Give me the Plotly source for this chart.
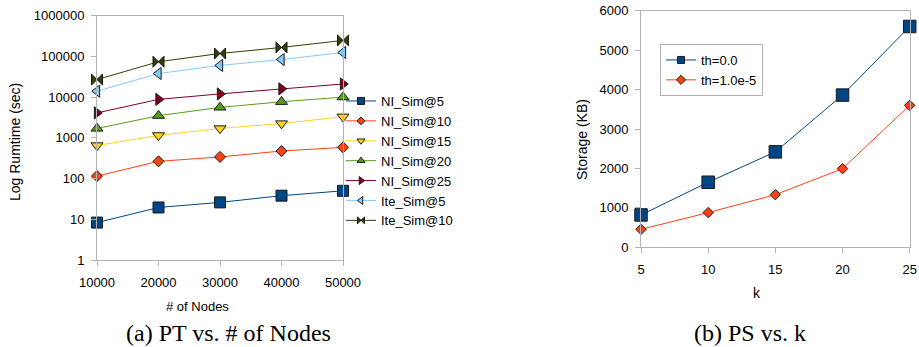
import plotly.graph_objects as go

# ---------------- data ----------------
nodes = [10000, 20000, 30000, 40000, 50000]
ni_sim5 = [8.3, 19.5, 26, 38, 50]
ni_sim10 = [115, 265, 340, 475, 585]
ni_sim15 = [650, 1150, 1700, 2250, 3300]
ni_sim20 = [1700, 3500, 5600, 7700, 10000]
ni_sim25 = [4100, 8800, 12000, 16000, 21000]
ite_sim5 = [14000, 38000, 60000, 84000, 125000]
ite_sim10 = [27000, 74000, 118000, 166000, 247000]

left_names = ["NI_Sim@5", "NI_Sim@10", "NI_Sim@15", "NI_Sim@20", "NI_Sim@25", "Ite_Sim@5", "Ite_Sim@10"]
left_series = [ni_sim5, ni_sim10, ni_sim15, ni_sim20, ni_sim25, ite_sim5, ite_sim10]

log_tickvals = [1, 10, 100, 1000, 10000, 100000, 1000000]
log_ticktext = ["1", "10", "100", "1000", "10000", "100000", "1000000"]

k_vals = [5, 10, 15, 20, 25]
storage_th0 = [820, 1650, 2420, 3860, 5600]
storage_th1 = [455, 880, 1335, 1995, 3600]
right_names = ["th=0.0", "th=1.0e-5"]
right_series = [storage_th0, storage_th1]

# ---------------- styles ----------------
left_colors = ["#004586", "#ff420e", "#ffd320", "#579d1c", "#7e0021", "#83caff", "#314004"]
left_symbols = ["square", "diamond", "triangle-down", "triangle-up", "triangle-right", "triangle-left", "bowtie"]
left_sizes = [11, 8.5, 10.5, 10.5, 10.5, 10.5, 11]
legend_sizes = [7, 6, 7, 7, 7, 7, 7]

right_colors = ["#004586", "#ff420e"]
right_symbols = ["square", "diamond"]
right_sizes = [12.5, 8]

FONT = "Liberation Sans, Arial, sans-serif"
GREY = "#b3b3b3"
W, H = 919, 347

fig = go.Figure()

for name, ys, c, s, sz, lsz in zip(left_names, left_series, left_colors, left_symbols, left_sizes, legend_sizes):
    fig.add_trace(go.Scatter(
        x=nodes, y=ys, mode="lines+markers", name=name, showlegend=False,
        line=dict(color=c, width=1),
        marker=dict(symbol=s, size=sz, color=c, line=dict(color="#1a1a1a", width=1)),
        cliponaxis=False, xaxis="x", yaxis="y"))
    fig.add_trace(go.Scatter(
        x=[None], y=[None], mode="lines+markers", name=name, legend="legend",
        line=dict(color=c, width=1),
        marker=dict(symbol=s, size=lsz, color=c, line=dict(color="#1a1a1a", width=1)),
        xaxis="x", yaxis="y"))

for name, ys, c, s, sz in zip(right_names, right_series, right_colors, right_symbols, right_sizes):
    fig.add_trace(go.Scatter(
        x=k_vals, y=ys, mode="lines+markers", name=name, showlegend=False,
        line=dict(color=c, width=1),
        marker=dict(symbol=s, size=sz, color=c, line=dict(color="#1a1a1a", width=1)),
        cliponaxis=False, xaxis="x2", yaxis="y2"))
    fig.add_trace(go.Scatter(
        x=[None], y=[None], mode="lines+markers", name=name, legend="legend2",
        line=dict(color=c, width=1),
        marker=dict(symbol=s, size=7, color=c, line=dict(color="#1a1a1a", width=1)),
        xaxis="x2", yaxis="y2"))

axis_common = dict(showline=True, linecolor=GREY, linewidth=1, mirror=True,
                   ticks="outside", ticklen=5, tickwidth=1, tickcolor=GREY,
                   showgrid=False, zeroline=False, automargin=False,
                   tickfont=dict(family=FONT, size=13, color="#000000"))

def px_x(p):
    return p / W

def px_y(p):
    return (H - p) / H

fig.update_layout(
    width=W, height=H,
    margin=dict(l=0, r=0, t=0, b=0, autoexpand=False),
    paper_bgcolor="white", plot_bgcolor="white",
    xaxis=dict(domain=[px_x(97), px_x(343)], range=[10000, 50000],
               tickvals=nodes, ticktext=[str(v) for v in nodes],
               ticklabelstandoff=5, anchor="y", **axis_common),
    yaxis=dict(domain=[px_y(260), px_y(15.7)], type="log", range=[0, 6],
               tickvals=log_tickvals, ticktext=log_ticktext,
               ticklabelstandoff=4, anchor="x", **axis_common),
    xaxis2=dict(domain=[px_x(641), px_x(909.7)], range=[5, 25],
                tickvals=k_vals, ticktext=[str(v) for v in k_vals],
                ticklabelstandoff=5, anchor="y2", **axis_common),
    yaxis2=dict(domain=[px_y(247.3), px_y(10.7)], range=[0, 6000],
                tickvals=[0, 1000, 2000, 3000, 4000, 5000, 6000],
                ticklabelstandoff=4, anchor="x2", **axis_common),
    legend=dict(x=px_x(341), y=px_y(86), xanchor="left", yanchor="top",
                font=dict(family=FONT, size=13, color="#000000"),
                bgcolor="rgba(0,0,0,0)", borderwidth=0, itemwidth=30,
                tracegroupgap=0),
    legend2=dict(x=px_x(660), y=px_y(44), xanchor="left", yanchor="top",
                 font=dict(family=FONT, size=13, color="#000000"),
                 bgcolor="white", bordercolor=GREY, borderwidth=1, itemwidth=30),
    showlegend=True,
)

annotations = [
    dict(text="Log Rumtime (sec)", x=px_x(15), y=px_y(142), textangle=-90,
         font=dict(family=FONT, size=14, color="#000000")),
    dict(text="# of Nodes", x=px_x(197), y=px_y(306),
         font=dict(family=FONT, size=13, color="#000000")),
    dict(text="Storage (KB)", x=px_x(582), y=px_y(140), textangle=-90,
         font=dict(family=FONT, size=14, color="#000000")),
    dict(text="k", x=px_x(757), y=px_y(293),
         font=dict(family=FONT, size=14, color="#000000")),
    dict(text="(a) PT vs. # of Nodes", x=px_x(228), y=px_y(333),
         font=dict(family="Liberation Serif, Times New Roman, serif", size=24, color="#000000")),
    dict(text="(b) PS vs. k", x=px_x(750), y=px_y(333),
         font=dict(family="Liberation Serif, Times New Roman, serif", size=24, color="#000000")),
]
for a in annotations:
    a.update(xref="paper", yref="paper", showarrow=False, xanchor="center", yanchor="middle")
fig.update_layout(annotations=annotations)

fig.write_html("out.html", config={"displayModeBar": False},
               post_script="document.body.style.margin='0';document.body.style.overflow='hidden';")
